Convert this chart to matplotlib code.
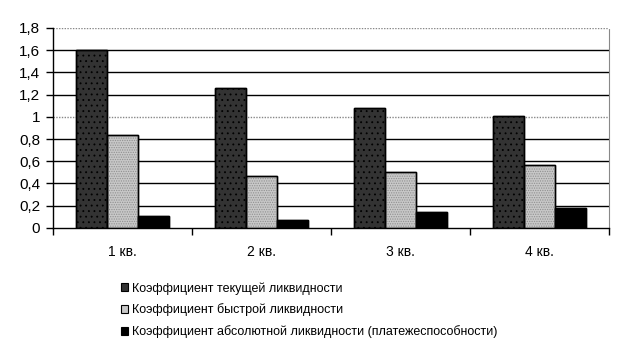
import matplotlib.pyplot as plt
from matplotlib.patches import Patch
import numpy as np

plt.rcParams['font.family'] = ['Liberation Sans', 'DejaVu Sans']
plt.rcParams['hatch.linewidth'] = 0.6

quarters = ['1 кв.', '2 кв.', '3 кв.', '4 кв.']
current_ratio = [1.60, 1.26, 1.08, 1.01]
quick_ratio = [0.84, 0.47, 0.50, 0.57]
absolute_ratio = [0.11, 0.07, 0.14, 0.18]
labels = ['Коэффициент текущей ликвидности',
          'Коэффициент быстрой ликвидности',
          'Коэффициент абсолютной ликвидности (платежеспособности)']
yticks = [0, 0.2, 0.4, 0.6, 0.8, 1.0, 1.2, 1.4, 1.6, 1.8]

fig = plt.figure(figsize=(6.29, 3.5), dpi=100)
ax = fig.add_axes([0.084, 0.349, 0.884, 0.571])

x = np.arange(len(quarters))
w = 0.223
series = [current_ratio, quick_ratio, absolute_ratio]
faces = ['#333333', '#c8c8c8', '#000000']
hatch_cols = ['#000000', '#909090', None]
hatches = ['...', '.......', None]

for i, (vals, fc, hc, ht) in enumerate(zip(series, faces, hatch_cols, hatches)):
    pos = x + (i - 1) * w
    ax.bar(pos, vals, w, color=fc, edgecolor='black', linewidth=1, zorder=3)
    if hc:
        ax.bar(pos, vals, w, color='none', edgecolor=hc, hatch=ht,
               linewidth=0, zorder=3)
    ax.bar(pos, vals, w, color='none', edgecolor='black', linewidth=1, zorder=4)

ax.set_xlim(-0.5, 3.5)
ax.set_ylim(0, 1.8)
ax.set_yticks(yticks)
ax.set_yticklabels([f'{v:g}'.replace('.', ',') for v in yticks], fontsize=11)
for v in yticks[1:]:
    if v in (1.0, 1.8):
        ax.axhline(v, color='#888888', linewidth=1, linestyle=(0, (1, 1)), zorder=1)
    else:
        ax.axhline(v, color='black', linewidth=1, zorder=1)

ax.set_xticks(x)
ax.set_xticklabels(quarters, fontsize=10)
ax.set_xticks(np.arange(-0.5, 4.0, 1), minor=True)
ax.tick_params(axis='x', which='major', length=0, pad=12)
ax.tick_params(axis='x', which='minor', length=5, width=1, direction='out')
ax.tick_params(axis='y', length=5, width=1, direction='out', pad=4)

ax.spines['top'].set_visible(False)
ax.spines['right'].set_color('#888888')
ax.spines['right'].set_linestyle((0, (1, 1)))
ax.spines['left'].set_linewidth(1)
ax.spines['bottom'].set_linewidth(1)

handles = [Patch(facecolor=fc, edgecolor='black', linewidth=0.8) for fc in faces]
fig.legend(handles, labels, loc='upper left', bbox_to_anchor=(0.184, 0.208),
           frameon=False, fontsize=9, handlelength=0.6, handleheight=0.6,
           handletextpad=0.3, labelspacing=0.7, borderaxespad=0)

fig.savefig('out.png', dpi=100)
